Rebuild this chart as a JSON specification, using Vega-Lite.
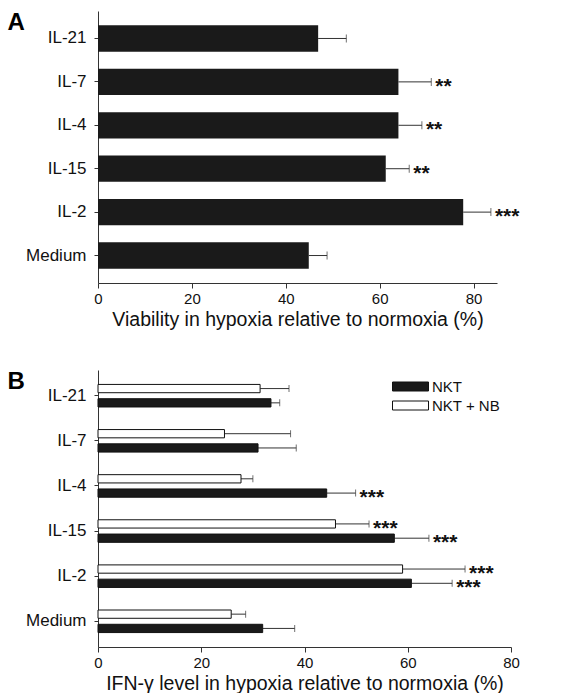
{
  "$schema": "https://vega.github.io/schema/vega-lite/v6.json",
  "padding": {"left": 7, "top": 10, "right": 5, "bottom": 0},
  "spacing": 40,
  "config": {
    "font": "Liberation Sans",
    "view": {"stroke": null},
    "axis": {"domainColor": "#333", "tickColor": "#333", "labelColor": "#111", "titleColor": "#111", "grid": false, "titleFontWeight": "normal", "labelFontSize": 15, "tickSize": 5, "titleFontSize": 19.5}
  },
  "vconcat": [
    {
      "width": 399,
      "height": 272,
      "data": {"values": [
        {"cyt": "IL-21", "v": 46.9, "err": 52.9, "sig": ""},
        {"cyt": "IL-7", "v": 64.0, "err": 71.0, "sig": "**"},
        {"cyt": "IL-4", "v": 64.0, "err": 69.0, "sig": "**"},
        {"cyt": "IL-15", "v": 61.3, "err": 66.3, "sig": "**"},
        {"cyt": "IL-2", "v": 77.8, "err": 83.7, "sig": "***"},
        {"cyt": "Medium", "v": 44.9, "err": 48.8, "sig": ""}
      ]},
      "encoding": {
        "y": {"field": "cyt", "type": "nominal", "sort": ["IL-21", "IL-7", "IL-4", "IL-15", "IL-2", "Medium"],
          "scale": {"paddingInner": 0.394, "paddingOuter": 0.33},
          "axis": {"title": "A", "titleAngle": 0, "titleX": -91, "titleY": 18.7, "titleAlign": "left", "titleBaseline": "alphabetic", "titleFontSize": 24, "titleFontWeight": "bold", "titleColor": "#000", "labelFontSize": 17, "labelPadding": 8, "tickSize": 4}}
      },
      "layer": [
        {"mark": {"type": "rule", "color": "#333", "strokeWidth": 1},
         "encoding": {"x": {"field": "v", "type": "quantitative", "title": "Viability in hypoxia relative to normoxia (%)", "scale": {"domain": [0, 85], "nice": false}, "axis": {"values": [0, 20, 40, 60, 80], "labelPadding": 3, "titlePadding": 4, "labelFlush": false}}, "x2": {"field": "err"}}},
        {"mark": {"type": "tick", "orient": "vertical", "size": 8, "thickness": 1, "color": "#333"},
         "encoding": {"x": {"field": "err", "type": "quantitative", "title": "Viability in hypoxia relative to normoxia (%)"}}},
        {"mark": {"type": "bar", "color": "#1a1a1a"},
         "encoding": {"x": {"field": "v", "type": "quantitative", "title": "Viability in hypoxia relative to normoxia (%)"}}},
        {"mark": {"type": "text", "align": "left", "baseline": "middle", "dx": 4, "dy": 5, "fontSize": 21, "fontWeight": "bold", "color": "#111"},
         "encoding": {"x": {"field": "err", "type": "quantitative", "title": "Viability in hypoxia relative to normoxia (%)"}, "text": {"field": "sig"}}}
      ]
    },
    {
      "width": 413,
      "height": 277,
      "data": {"values": [
        {"cyt": "IL-21", "group": "NKT + NB", "v": 31.4, "err": 37.0, "sig": ""},
        {"cyt": "IL-21", "group": "NKT", "v": 33.5, "err": 35.2, "sig": ""},
        {"cyt": "IL-7", "group": "NKT + NB", "v": 24.5, "err": 37.3, "sig": ""},
        {"cyt": "IL-7", "group": "NKT", "v": 31.0, "err": 38.4, "sig": ""},
        {"cyt": "IL-4", "group": "NKT + NB", "v": 27.7, "err": 30.0, "sig": ""},
        {"cyt": "IL-4", "group": "NKT", "v": 44.3, "err": 49.9, "sig": "***"},
        {"cyt": "IL-15", "group": "NKT + NB", "v": 46.0, "err": 52.5, "sig": "***"},
        {"cyt": "IL-15", "group": "NKT", "v": 57.4, "err": 64.1, "sig": "***"},
        {"cyt": "IL-2", "group": "NKT + NB", "v": 59.0, "err": 71.1, "sig": "***"},
        {"cyt": "IL-2", "group": "NKT", "v": 60.7, "err": 68.6, "sig": "***"},
        {"cyt": "Medium", "group": "NKT + NB", "v": 25.8, "err": 28.6, "sig": ""},
        {"cyt": "Medium", "group": "NKT", "v": 31.9, "err": 38.1, "sig": ""}
      ]},
      "encoding": {
        "y": {"field": "cyt", "type": "nominal", "sort": ["IL-21", "IL-7", "IL-4", "IL-15", "IL-2", "Medium"],
          "scale": {"paddingInner": 0.5, "paddingOuter": 0.32},
          "axis": {"title": "B", "titleAngle": 0, "titleX": -91, "titleY": 18, "titleAlign": "left", "titleBaseline": "alphabetic", "titleFontSize": 24, "titleFontWeight": "bold", "titleColor": "#000", "labelFontSize": 17, "labelPadding": 8, "tickSize": 4}},
        "yOffset": {"field": "group", "type": "nominal", "sort": ["NKT + NB", "NKT"], "scale": {"paddingInner": 0.42}}
      },
      "layer": [
        {"mark": {"type": "rule", "color": "#333", "strokeWidth": 1},
         "encoding": {"x": {"field": "v", "type": "quantitative", "title": "IFN-γ level in hypoxia relative to normoxia (%)", "scale": {"domain": [0, 80], "nice": false}, "axis": {"values": [0, 20, 40, 60, 80], "labelPadding": 3, "titlePadding": 4, "labelFlush": false}}, "x2": {"field": "err"}}},
        {"mark": {"type": "tick", "orient": "vertical", "size": 7, "thickness": 1, "color": "#333"},
         "encoding": {"x": {"field": "err", "type": "quantitative", "title": "IFN-γ level in hypoxia relative to normoxia (%)"}}},
        {"mark": {"type": "bar", "stroke": "#111", "strokeWidth": 1},
         "encoding": {"x": {"field": "v", "type": "quantitative", "title": "IFN-γ level in hypoxia relative to normoxia (%)"},
           "color": {"field": "group", "type": "nominal", "scale": {"domain": ["NKT", "NKT + NB"], "range": ["#1a1a1a", "#ffffff"]},
             "legend": {"title": null, "orient": "none", "legendX": 294, "legendY": 366, "padding": 0, "symbolType": "M-1,-0.5H3V0.5H-1Z", "symbolSize": 324, "symbolStrokeColor": "#111", "symbolStrokeWidth": 1, "labelFontSize": 15, "labelOffset": 21, "labelColor": "#111", "rowPadding": 1}}}},
        {"mark": {"type": "text", "align": "left", "baseline": "middle", "dx": 4, "dy": 5, "fontSize": 21, "fontWeight": "bold", "color": "#111"},
         "encoding": {"x": {"field": "err", "type": "quantitative", "title": "IFN-γ level in hypoxia relative to normoxia (%)"}, "text": {"field": "sig"}}}
      ]
    }
  ]
}
